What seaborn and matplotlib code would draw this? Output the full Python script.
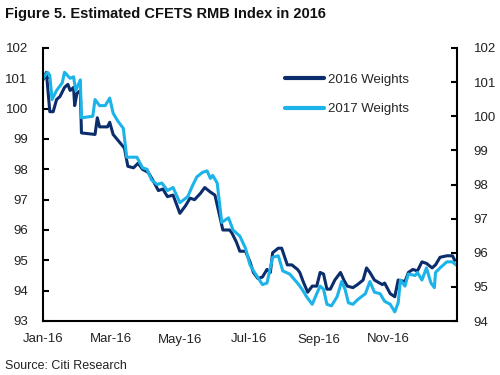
import pandas as pd
import matplotlib
matplotlib.use("Agg")
import matplotlib.pyplot as plt
from matplotlib import font_manager
import seaborn as sns

# estimated CFETS RMB index (left-axis scale)
dates_2016w = ["2016-01-01", "2016-01-04", "2016-01-07", "2016-01-10", "2016-01-13", "2016-01-16",
               "2016-01-20", "2016-01-23", "2016-01-25", "2016-01-28", "2016-01-29", "2016-01-31",
               "2016-02-03", "2016-02-04", "2016-02-16", "2016-02-18", "2016-02-20", "2016-02-27",
               "2016-02-29", "2016-03-03", "2016-03-07", "2016-03-13", "2016-03-16", "2016-03-21",
               "2016-03-25", "2016-03-29", "2016-04-03", "2016-04-07", "2016-04-12", "2016-04-16",
               "2016-04-20", "2016-04-25", "2016-05-01", "2016-05-06", "2016-05-10", "2016-05-14",
               "2016-05-19", "2016-05-23", "2016-05-28", "2016-06-01", "2016-06-08", "2016-06-14",
               "2016-06-16", "2016-06-20", "2016-06-23", "2016-06-28", "2016-07-02", "2016-07-05",
               "2016-07-09", "2016-07-13", "2016-07-17", "2016-07-20", "2016-07-22", "2016-07-27",
               "2016-07-30", "2016-08-04", "2016-08-08", "2016-08-13", "2016-08-15", "2016-08-18",
               "2016-08-22", "2016-08-26", "2016-08-30", "2016-09-02", "2016-09-05", "2016-09-08",
               "2016-09-11", "2016-09-15", "2016-09-20", "2016-09-23", "2016-09-26", "2016-10-01",
               "2016-10-05", "2016-10-10", "2016-10-13", "2016-10-16", "2016-10-20", "2016-10-27",
               "2016-10-29", "2016-11-03", "2016-11-07", "2016-11-10", "2016-11-16", "2016-11-19",
               "2016-11-23", "2016-11-27", "2016-12-01", "2016-12-05", "2016-12-10", "2016-12-13",
               "2016-12-17", "2016-12-23", "2016-12-28", "2016-12-30"]
index_2016w = [100.95, 101.2, 99.9, 99.9, 100.3, 100.4,
               100.7, 100.8, 100.6, 100.7, 100.1, 100.5,
               100.6, 99.2, 99.15, 99.7, 99.4, 99.4,
               99.55, 99.15, 98.97, 98.7, 98.1, 98.05,
               98.2, 98.0, 97.9, 97.65, 97.3, 97.35,
               97.1, 97.15, 96.55, 96.8, 97.05, 97.0,
               97.2, 97.4, 97.25, 97.15, 96.0, 96.0,
               95.9, 95.6, 95.3, 95.3, 94.95, 94.6,
               94.4, 94.45, 94.7, 94.6, 95.25, 95.4,
               95.4, 94.85, 94.85, 94.7, 94.6, 94.3,
               93.95, 94.15, 94.15, 94.6, 94.55, 94.05,
               94.05, 94.35, 94.6, 94.35, 94.15, 94.1,
               94.2, 94.35, 94.75, 94.6, 94.35, 94.2,
               94.25, 93.9, 93.8, 94.35, 94.3, 94.6,
               94.7, 94.65, 94.95, 94.9, 94.75, 94.85,
               95.1, 95.15, 95.15, 95.0]

dates_2017w = ["2016-01-01", "2016-01-05", "2016-01-07", "2016-01-09", "2016-01-13", "2016-01-18",
               "2016-01-20", "2016-01-25", "2016-01-28", "2016-01-30", "2016-02-03", "2016-02-04",
               "2016-02-14", "2016-02-16", "2016-02-20", "2016-02-25", "2016-02-29", "2016-03-03",
               "2016-03-07", "2016-03-12", "2016-03-15", "2016-03-24", "2016-03-29", "2016-04-02",
               "2016-04-06", "2016-04-11", "2016-04-15", "2016-04-20", "2016-04-25", "2016-05-01",
               "2016-05-08", "2016-05-12", "2016-05-16", "2016-05-21", "2016-05-25", "2016-05-28",
               "2016-05-30", "2016-06-03", "2016-06-07", "2016-06-13", "2016-06-17", "2016-06-23",
               "2016-06-28", "2016-07-02", "2016-07-06", "2016-07-13", "2016-07-17", "2016-07-22",
               "2016-07-27", "2016-07-31", "2016-08-06", "2016-08-13", "2016-08-17", "2016-08-21",
               "2016-08-26", "2016-08-30", "2016-09-02", "2016-09-05", "2016-09-08", "2016-09-12",
               "2016-09-17", "2016-09-21", "2016-09-24", "2016-09-27", "2016-10-01", "2016-10-05",
               "2016-10-12", "2016-10-16", "2016-10-20", "2016-10-25", "2016-10-29", "2016-11-03",
               "2016-11-07", "2016-11-10", "2016-11-12", "2016-11-16", "2016-11-19", "2016-11-25",
               "2016-11-27", "2016-12-01", "2016-12-05", "2016-12-09", "2016-12-12", "2016-12-13",
               "2016-12-17", "2016-12-23", "2016-12-28", "2016-12-31"]
index_2017w = [101.0, 101.2, 101.1, 100.3, 100.6, 100.85,
               101.2, 101.0, 101.05, 100.6, 100.95, 99.7,
               99.75, 100.3, 100.1, 100.1, 100.35, 99.85,
               99.6, 99.35, 98.4, 98.4, 98.05, 98.0,
               97.65, 97.5, 97.55, 97.3, 97.4, 96.9,
               97.1, 97.45, 97.75, 97.9, 97.95, 97.7,
               97.8, 97.55, 96.25, 96.4, 96.0, 95.8,
               95.4, 94.85, 94.6, 94.2, 94.25, 95.1,
               95.15, 94.65, 94.55, 94.25, 94.05, 93.8,
               93.55, 93.9, 94.15, 94.05, 93.55, 93.5,
               93.8, 94.3, 94.05, 93.6, 93.55, 93.7,
               93.9, 94.3, 93.95, 93.9, 93.65, 93.55,
               93.3, 93.6, 94.35, 94.15, 94.55, 94.5,
               94.6, 94.35, 94.75, 94.25, 94.1, 94.6,
               94.75, 94.95, 94.95, 94.85]

left_ticks = list(range(93, 103))
right_ticks = list(range(94, 103))
x_ticks = ["2016-01-01", "2016-03-01", "2016-05-01", "2016-07-01", "2016-09-01", "2016-11-01", "2017-01-01"]
x_labels = ["Jan-16", "Mar-16", "May-16", "Jul-16", "Sep-16", "Nov-16", ""]

dark = "#0b2d6b"
light = "#1cb4e8"

sns.set_style("white")
plt.rcParams["font.family"] = ["Liberation Sans", "DejaVu Sans"]

# the title in the source uses a narrow bold face
installed = {f.name for f in font_manager.fontManager.ttflist}
if "Liberation Sans Narrow" in installed:
    title_font, title_size = "Liberation Sans Narrow", 12.5
else:
    title_font, title_size = "Liberation Sans", 10.5

df16 = pd.DataFrame({"date": pd.to_datetime(dates_2016w), "value": index_2016w})
df17 = pd.DataFrame({"date": pd.to_datetime(dates_2017w), "value": index_2017w})

fig = plt.figure(figsize=(5, 3.75), dpi=100)
ax = fig.add_axes([0.086, 0.144, 0.828, 0.728])

sns.lineplot(data=df16, x="date", y="value", ax=ax, color=dark, lw=2.2, label="2016 Weights")
sns.lineplot(data=df17, x="date", y="value", ax=ax, color=light, lw=2.2, label="2017 Weights")

ax.set_xlim(pd.Timestamp("2016-01-01"), pd.Timestamp("2017-01-01"))
ax.set_ylim(93, 102)
ax.set_yticks(left_ticks)
ax.set_xticks(pd.to_datetime(x_ticks))
ax.set_xticklabels(x_labels)
ax.set_xlabel("")
ax.set_ylabel("")

ax2 = ax.twinx()
ax2.set_ylim(94, 102)
ax2.set_yticks(right_ticks)

for a in (ax, ax2):
    a.spines["top"].set_visible(False)
    for s in ("left", "right", "bottom"):
        a.spines[s].set_linewidth(1.5)
        a.spines[s].set_color("black")
    a.tick_params(direction="in", length=4, width=1.5, colors="black",
                  labelsize=9.5, labelcolor="#222222")
ax.tick_params(axis="x", pad=9)
ax.tick_params(axis="y", pad=11)
ax2.tick_params(axis="y", pad=12)
ax.spines["right"].set_visible(False)
ax2.spines["left"].set_visible(False)
ax2.spines["bottom"].set_visible(False)

leg = ax.legend(loc="upper left", bbox_to_anchor=(0.555, 0.95), frameon=False,
                fontsize=9.5, handlelength=3.0, handletextpad=0.3, labelspacing=1.3)
for line in leg.get_lines():
    line.set_linewidth(3)

fig.text(0.01, 0.963, "Figure 5. Estimated CFETS RMB Index in 2016", fontsize=title_size,
         fontweight="bold", family=title_font, ha="left", va="center", color="#111111")
fig.text(0.01, 0.025, "Source: Citi Research", fontsize=9, ha="left", va="center", color="#222222")

fig.savefig("out.png", dpi=100)
